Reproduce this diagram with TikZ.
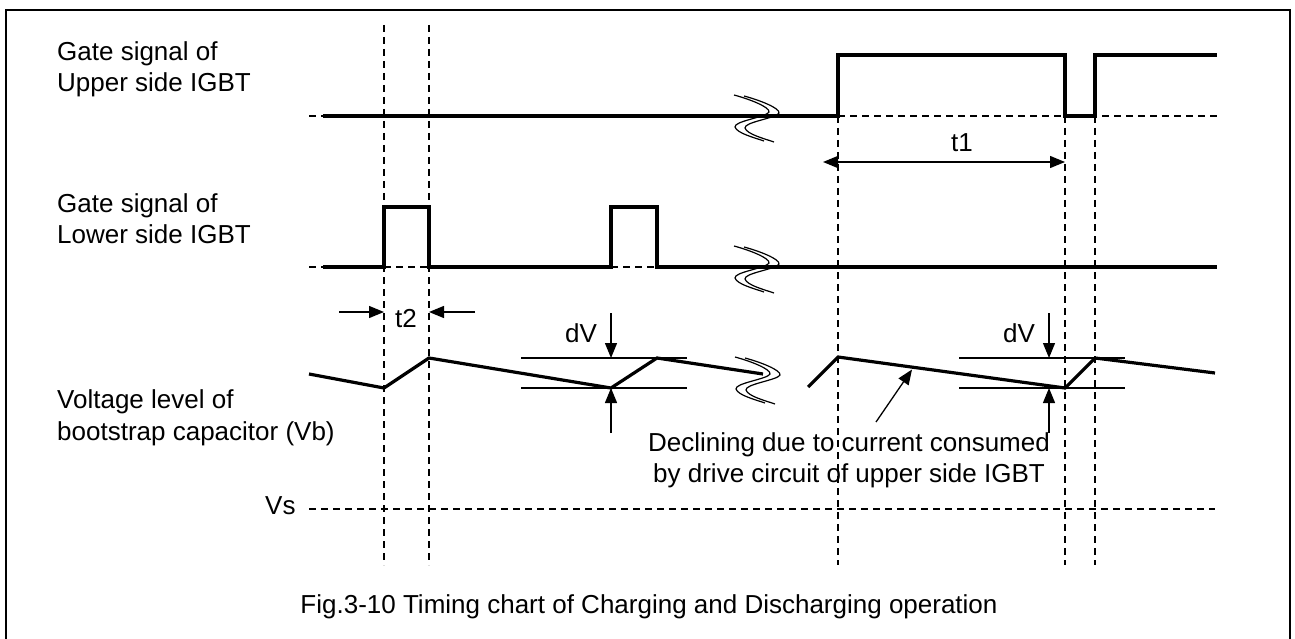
\documentclass[tikz,border=0pt]{standalone}
\usepackage{fontspec}
\setmainfont{Liberation Sans}
\usetikzlibrary{arrows.meta}
\begin{document}
\begin{tikzpicture}[x=1pt,y=-1pt,
  sig/.style={line width=3.2pt, line join=miter, line cap=butt},
  dsh/.style={line width=1.2pt, dash pattern=on 7pt off 5pt},
  thinln/.style={line width=1.3pt},
  framebox/.style={line width=2pt},
  arr/.style={line width=1.3pt, -{Triangle[length=15pt,width=12pt]}},
  darr/.style={line width=1.3pt, {Triangle[length=15pt,width=12pt]}-{Triangle[length=15pt,width=12pt]}},
  lbl/.style={font=\fontsize{26}{31}\selectfont, inner sep=0pt},
  brk/.pic={
    \draw[line width=1.2pt] (0,0) .. controls (15,4) and (36,12) .. (35,17)
      .. controls (33,22) and (0,26) .. (1,32) .. controls (3,38) and (18,42) .. (30,46);
    \draw[line width=1.2pt] (10,1) .. controls (25,5) and (46,13) .. (45,18)
      .. controls (43,23) and (10,27) .. (11,33) .. controls (13,39) and (28,43) .. (40,47);
  }]
\useasboundingbox (0,0) rectangle (1295,639);
\draw[framebox] (6,650) -- (6,10) -- (1290,10) -- (1290,650);

% labels
\node[lbl, anchor=base west] (u1) at (57,61) {Gate signal of};
\node[lbl, anchor=base west] (u2) at (57,92) {Upper side IGBT};
\node[lbl, anchor=base west] (l1) at (57,212) {Gate signal of};
\node[lbl, anchor=base west] (l2) at (57,243) {Lower side IGBT};
\node[lbl, anchor=base west] (v1) at (57,408) {Voltage level of};
\node[lbl, anchor=base west] (v2) at (57,440) {bootstrap capacitor (Vb)};
\node[lbl, anchor=base west] (vs) at (265,514) {Vs};
\node[lbl, anchor=base] (cap) at (649,613) {Fig.3-10 Timing chart of Charging and Discharging operation};
\node[lbl, anchor=base] (dec1) at (849,451) {Declining due to current consumed};
\node[lbl, anchor=base] (dec2) at (849,482) {by drive circuit of upper side IGBT};
\node[lbl, anchor=base] (t1) at (962,152) {t1};
\node[lbl, anchor=base] (t2) at (406,327) {t2};
\node[lbl, anchor=base] (dva) at (581,342) {dV};
\node[lbl, anchor=base] (dvb) at (1019,342) {dV};

% vertical dashed guides
\draw[dsh] (384,25) -- (384,565);
\draw[dsh] (429,25) -- (429,565);
\draw[dsh] (838,116) -- (838,565);
\draw[dsh] (1065,116) -- (1065,565);
\draw[dsh] (1095,116) -- (1095,565);

% horizontal dashed references
\draw[dsh] (309,116) -- (323,116);
\draw[dsh] (838,116) -- (1217,116);
\draw[dsh] (309,267) -- (323,267);
\draw[dsh] (384,267) -- (429,267);
\draw[dsh] (611,267) -- (657,267);
\draw[dsh] (309,509) -- (1215,509);

% upper gate signal
\draw[sig] (323,116) -- (838,116) -- (838,55) -- (1065,55) -- (1065,116) -- (1095,116) -- (1095,55) -- (1217,55);
\pic at (734,95) {brk};

% lower gate signal
\draw[sig] (323,267) -- (384,267) -- (384,207) -- (429,207) -- (429,267) -- (611,267) -- (611,207) -- (657,207) -- (657,267) -- (1217,267);
\pic at (734,246) {brk};

% bootstrap voltage
\draw[sig] (309,374) -- (384,388) -- (429,358) -- (611,388) -- (657,358) -- (763,374);
\draw[sig] (808,387) -- (838,357) -- (1065,388) -- (1095,358) -- (1215,373);
\pic at (735,357) {brk};

% dV reference lines
\draw[thinln] (521,358) -- (687,358);
\draw[thinln] (521,388) -- (687,388);
\draw[thinln] (959,358) -- (1125,358);
\draw[thinln] (959,388) -- (1125,388);

% dV arrows
\coordinate (dva1) at (611,313); \coordinate (dva2) at (611,358);
\coordinate (dva3) at (611,433); \coordinate (dva4) at (611,388);
\draw[arr] (dva1) -- (dva2);
\draw[arr] (dva3) -- (dva4);
\coordinate (dvb1) at (1049,313); \coordinate (dvb2) at (1049,358);
\coordinate (dvb3) at (1049,433); \coordinate (dvb4) at (1049,388);
\draw[arr] (dvb1) -- (dvb2);
\draw[arr] (dvb3) -- (dvb4);

% t1 and t2
\coordinate (t1a) at (823,162); \coordinate (t1b) at (1065,162);
\draw[darr] (t1a) -- (t1b);
\coordinate (t2a) at (339,312); \coordinate (t2b) at (384,312);
\coordinate (t2c) at (475,312); \coordinate (t2d) at (429,312);
\draw[arr] (t2a) -- (t2b);
\draw[arr] (t2c) -- (t2d);

% declining pointer
\coordinate (decp) at (912,369.5);
\draw[arr] (876,422) -- (decp);
\end{tikzpicture}
\end{document}
